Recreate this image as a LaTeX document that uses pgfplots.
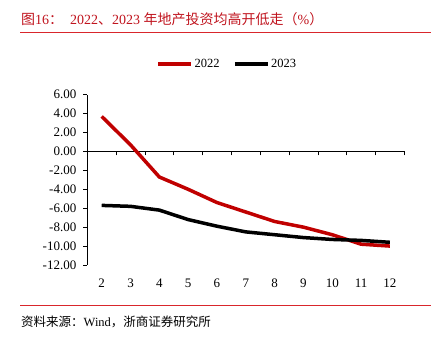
\documentclass[border=0pt]{standalone}
\usepackage{fontspec}
\setmainfont{Liberation Serif}
\newfontfamily\cjk{Noto Sans CJK SC}
\usepackage{pgfplots}
\pgfplotsset{compat=1.18}
\definecolor{titlered}{HTML}{C0141E}
\definecolor{linered}{HTML}{D9262C}
\definecolor{s22}{HTML}{C00000}
\begin{document}
\begin{tikzpicture}
\path[use as bounding box] (0,0) rectangle (443bp,355bp);
\node[anchor=west, inner sep=0, text=titlered, font=\fontsize{14bp}{16bp}\selectfont] at (21bp,336bp) {{\cjk 图}16{\cjk ：}\ \ 2022{\cjk 、}2023 {\cjk 年地产投资均高开低走（}\%{\cjk ）}};
\draw[linered, line width=1bp] (20bp,322.7bp) -- (431bp,322.7bp);
\draw[linered, line width=1bp] (20bp,49bp) -- (431bp,49bp);
\node[anchor=west, inner sep=0, font=\fontsize{12.5bp}{15bp}\selectfont] at (21bp,33bp) {{\cjk 资料来源：}Wind{\cjk ，浙商证券研究所}};
\begin{axis}[
  at={(87.3bp,90bp)}, anchor=south west,
  scale only axis, width=317bp, height=170.3bp,
  xmin=1.5, xmax=12.5, ymin=-12, ymax=6,
  enlargelimits=false,
  axis x line=middle, axis y line=left,
  axis line style={-, black, line width=0.6bp},
  hide obscured x ticks=false, hide obscured y ticks=false,
  xtick={2,...,12}, minor xtick={1.5,2.5,...,12.5},
  major x tick style={draw=none},
  minor x tick style={black, line width=0.6bp},
  minor tick length=4bp,
  ytick={-12,-10,...,6},
  major tick length=4bp,
  tick align=outside,
  y tick style={black, line width=0.6bp},
  xticklabel style={anchor=center, yshift=-128bp},
  yticklabel style={xshift=-3.5bp},
  ticklabel style={font=\fontsize{13bp}{15bp}\selectfont},
  /pgf/number format/assume math mode=true,
  yticklabel={\pgfmathprintnumber[fixed, fixed zerofill, precision=2]{\tick}},
  legend style={draw=none, fill=none, at={(0.4407,1.18)}, anchor=center,
    legend columns=2, font=\fontsize{12.5bp}{15bp}\selectfont,
    /tikz/every even column/.append style={column sep=12bp},
    inner sep=0pt, nodes={inner sep=1.5bp}},
  legend image code/.code={\draw[#1] (0bp,0bp) -- (33bp,0bp);},
]
\addplot[s22, line width=3.5bp] coordinates {(2,3.7) (3,0.7) (4,-2.7) (5,-4.0) (6,-5.4) (7,-6.4) (8,-7.4) (9,-8.0) (10,-8.8) (11,-9.8) (12,-10.0)};
\addlegendentry{2022}
\addplot[black, line width=3.5bp] coordinates {(2,-5.7) (3,-5.8) (4,-6.2) (5,-7.2) (6,-7.9) (7,-8.5) (8,-8.8) (9,-9.1) (10,-9.3) (11,-9.4) (12,-9.6)};
\addlegendentry{2023}
\end{axis}
\end{tikzpicture}
\end{document}
